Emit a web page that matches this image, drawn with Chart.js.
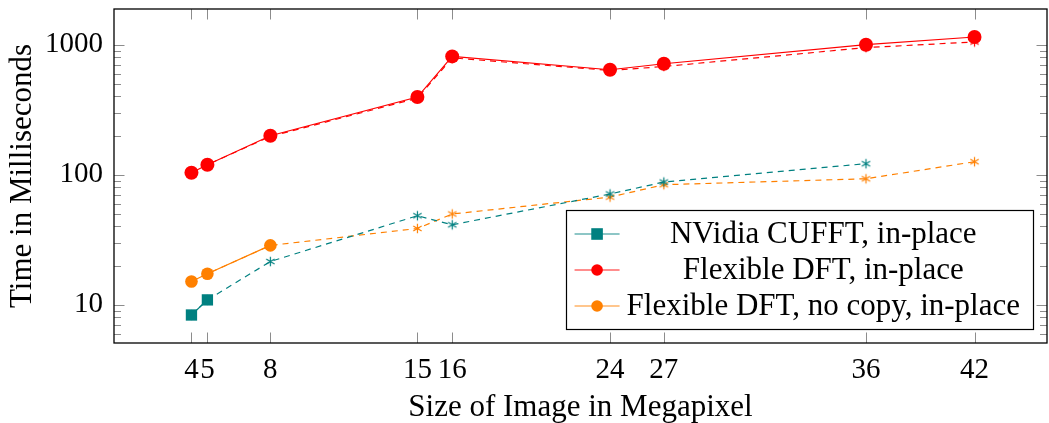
<!DOCTYPE html>
<html>
<head>
<meta charset="utf-8">
<script src="https://cdn.jsdelivr.net/npm/chart.js@4/dist/chart.umd.min.js"></script>
<style>
  html, body { margin: 0; padding: 0; background: #fff; }
  canvas { display: block; }
</style>
</head>
<body>
<canvas id="c" width="1049" height="423"></canvas>
<script>
// Image sizes (megapixels) and their axis labels
const megapixels = [4.19, 4.96, 8.0, 15.1, 16.78, 24.4, 27.0, 36.76, 42.0];
const xTickLabels = ['4', '5', '8', '15', '16', '24', '27', '36', '42'];

// Run times in milliseconds
const cufftInPlace = [8.34, 10.9];
const flexInPlace = [103.6, 119.4, 199.5, 396, 813, 642, 714, 1000, 1146];
const flexNoCopyInPlace = [15.1, 17.3, 28.6];
const cufftOutOfPlace = [8.34, 10.9, 21.5, 48.4, 41.2, 71.1, 87.9, 121.6];
const flexOutOfPlace = [103.6, 119.4, 197, 388, 792, 634, 680, 950, 1050];
const flexNoCopyOutOfPlace = [15.1, 17.3, 28.6, 38.6, 49.9, 67.3, 83.8, 93.1, 125.9];

// Labelled decades on the time axis
const yMajorTicks = [10, 100, 1000];

const TEAL = '#008080', RED = '#ff0000', ORANGE = '#ff8000';
const FONT = "'Liberation Serif', 'DejaVu Serif', serif";
const Y_MIN = 5.08, Y_MAX = 1882;

const yTickValues = [];
[1, 10, 100, 1000].forEach(d => {
  for (let m = 1; m <= 9; m++) {
    const v = d * m;
    if (v >= Y_MIN && v <= Y_MAX) yTickValues.push(v);
  }
});

function points(values) {
  return values.map((v, i) => ({ x: megapixels[i], y: v }));
}

// Asterisk marker used by the dashed series
function asterisk(color) {
  const s = 13, c = document.createElement('canvas');
  c.width = s; c.height = s;
  const g = c.getContext('2d');
  g.strokeStyle = color;
  g.lineWidth = 1.2;
  const r = 4.8;
  g.beginPath();
  for (let k = 0; k < 3; k++) {
    const a = Math.PI / 2 + k * Math.PI / 3;
    g.moveTo(s / 2 + r * Math.cos(a), s / 2 - r * Math.sin(a));
    g.lineTo(s / 2 - r * Math.cos(a), s / 2 + r * Math.sin(a));
  }
  g.stroke();
  return c;
}

function solid(label, values, color, style, radius) {
  return {
    label, data: points(values), inLegend: true,
    borderColor: color, backgroundColor: color, borderWidth: 1.2,
    pointStyle: style, pointRadius: radius, pointBorderWidth: 0,
    pointBackgroundColor: color, tension: 0
  };
}

function dashed(values, color) {
  return {
    label: '', data: points(values), inLegend: false,
    borderColor: color, backgroundColor: color, borderWidth: 1.2,
    borderDash: [6, 5], pointStyle: asterisk(color), pointRadius: 5,
    tension: 0
  };
}

// Axes keep a fixed size and no extra room for edge labels
function fixBox(s, size) {
  if (s.isHorizontal()) s.height = size; else s.width = size;
  s.paddingTop = 0; s.paddingBottom = 0; s.paddingLeft = 0; s.paddingRight = 0;
}

// Inward tick marks on all four sides plus the plot frame
const frameTicks = {
  id: 'frameTicks',
  beforeDatasetsDraw(chart) {
    const { ctx, chartArea: a, scales: { x, y } } = chart;
    ctx.save();
    ctx.strokeStyle = '#8c8c8c';
    ctx.lineWidth = 1;
    ctx.beginPath();
    x.ticks.forEach(t => {
      const px = Math.round(x.getPixelForValue(t.value)) + 0.5;
      ctx.moveTo(px, a.bottom); ctx.lineTo(px, a.bottom - 10.5);
      ctx.moveTo(px, a.top); ctx.lineTo(px, a.top + 10.5);
    });
    y.ticks.forEach(t => {
      const py = Math.round(y.getPixelForValue(t.value)) + 0.5;
      const len = yMajorTicks.includes(t.value) ? 10.5 : 7;
      ctx.moveTo(a.left, py); ctx.lineTo(a.left + len, py);
      ctx.moveTo(a.right, py); ctx.lineTo(a.right - len, py);
    });
    ctx.stroke();
    ctx.restore();
  },
  afterDatasetsDraw(chart) {
    const { ctx, chartArea: a } = chart;
    ctx.save();
    ctx.strokeStyle = '#000';
    ctx.lineWidth = 1.3;
    ctx.strokeRect(a.left, a.top, a.right - a.left, a.bottom - a.top);
    ctx.restore();
  }
};

// Boxed legend in the lower right corner, labels centred
const boxedLegend = {
  id: 'boxedLegend',
  afterDraw(chart) {
    const { ctx, chartArea: a } = chart;
    const items = chart.data.datasets.filter(d => d.inLegend);
    ctx.save();
    ctx.font = `31px ${FONT}`;
    const textW = Math.max(...items.map(d => ctx.measureText(d.label).width));
    const padL = 9, sample = 45, gap = 7, padR = 13;
    const rowH = 36, padT = 24, padB = 23;
    const w = padL + sample + gap + textW + padR;
    const h = padT + rowH * (items.length - 1) + padB;
    const right = a.right - 14, bottom = a.bottom - 14;
    const left = right - w, top = bottom - h;
    ctx.fillStyle = '#fff';
    ctx.fillRect(left, top, w, h);
    ctx.strokeStyle = '#000';
    ctx.lineWidth = 1.2;
    ctx.strokeRect(Math.round(left) + 0.5, Math.round(top) + 0.5, Math.round(w), Math.round(h));
    items.forEach((d, i) => {
      const cy = top + padT + i * rowH;
      const x0 = left + padL, x1 = x0 + sample, cx = (x0 + x1) / 2;
      ctx.globalAlpha = 0.6;
      ctx.strokeStyle = d.borderColor;
      ctx.lineWidth = 1.6;
      ctx.beginPath(); ctx.moveTo(x0, cy); ctx.lineTo(x1, cy); ctx.stroke();
      ctx.globalAlpha = 1;
      ctx.fillStyle = d.borderColor;
      if (d.pointStyle === 'rect') {
        ctx.fillRect(cx - 5.8, cy - 5.8, 11.6, 11.6);
      } else {
        ctx.beginPath(); ctx.arc(cx, cy, 5.8, 0, Math.PI * 2); ctx.fill();
      }
      ctx.fillStyle = '#000';
      ctx.textAlign = 'center';
      ctx.textBaseline = 'middle';
      ctx.fillText(d.label, x1 + gap + textW / 2, cy + 1);
    });
    ctx.restore();
  }
};

new Chart(document.getElementById('c'), {
  type: 'line',
  data: {
    datasets: [
      solid('NVidia CUFFT, in-place', cufftInPlace, TEAL, 'rect', 8),
      solid('Flexible DFT, in-place', flexInPlace, RED, 'circle', 7),
      solid('Flexible DFT, no copy, in-place', flexNoCopyInPlace, ORANGE, 'circle', 6.3),
      dashed(cufftOutOfPlace, TEAL),
      dashed(flexOutOfPlace, RED),
      dashed(flexNoCopyOutOfPlace, ORANGE)
    ]
  },
  options: {
    responsive: false,
    devicePixelRatio: 1,
    animation: false,
    layout: { autoPadding: false, padding: { top: 9, right: 2, left: 0, bottom: 0 } },
    plugins: { legend: { display: false }, tooltip: { enabled: false } },
    scales: {
      x: {
        type: 'linear', min: 0.45, max: 45.5,
        afterBuildTicks: s => { s.ticks = megapixels.map(v => ({ value: v })); },
        afterFit: s => fixBox(s, 80),
        grid: { display: false, drawTicks: false },
        border: { display: false },
        ticks: {
          autoSkip: false, maxRotation: 0, minRotation: 0, padding: 10,
          color: '#000', font: { family: FONT, size: 29 },
          callback: (v, i) => xTickLabels[i]
        },
        title: {
          display: true, text: 'Size of Image in Megapixel', color: '#000',
          font: { family: FONT, size: 31, lineHeight: 1 }, padding: { top: 0, bottom: 0 }
        }
      },
      y: {
        type: 'logarithmic', min: Y_MIN, max: Y_MAX,
        afterBuildTicks: s => { s.ticks = yTickValues.map(v => ({ value: v })); },
        afterFit: s => fixBox(s, 114),
        grid: { display: false, drawTicks: false },
        border: { display: false },
        ticks: {
          autoSkip: false, padding: 11, color: '#000',
          font: { family: FONT, size: 29 },
          callback: v => (yMajorTicks.includes(v) ? String(v) : '')
        },
        title: {
          display: true, text: 'Time in Milliseconds', color: '#000',
          font: { family: FONT, size: 31 }, padding: { top: 4, bottom: 0 }
        }
      }
    }
  },
  plugins: [frameTicks, boxedLegend]
});
</script>
</body>
</html>
